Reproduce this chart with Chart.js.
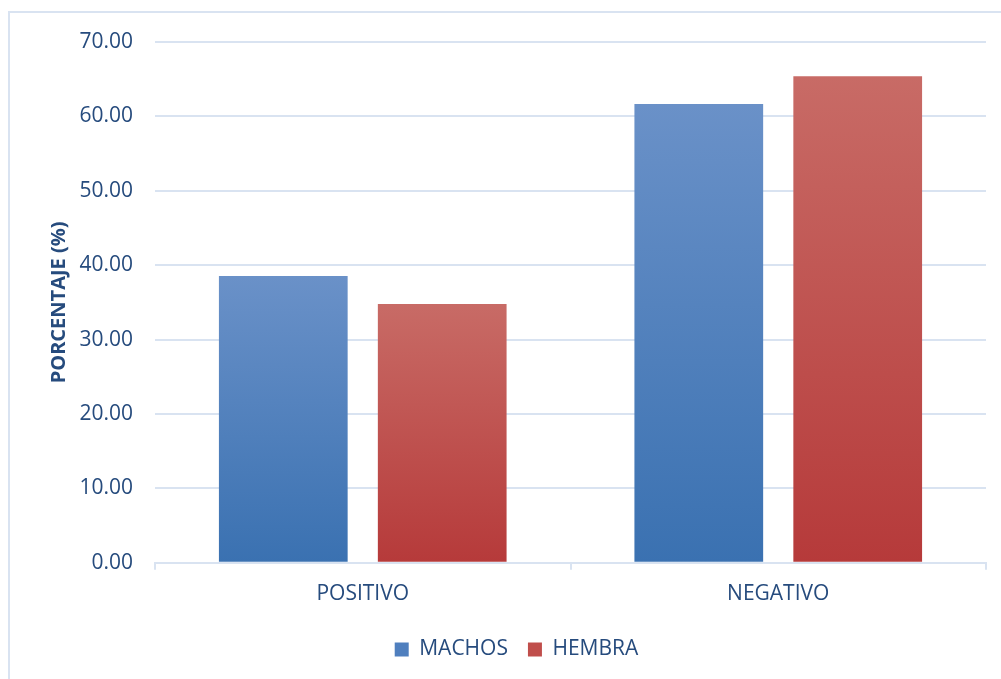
<!DOCTYPE html>
<html>
<head>
<meta charset="utf-8">
<script src="https://cdn.jsdelivr.net/npm/chart.js@4"></script>
<style>
  html, body { margin: 0; padding: 0; background: #fff; }
  #wrap { width: 1001px; height: 679px; position: relative; }
</style>
</head>
<body>
<div id="wrap"><canvas id="myChart" width="1001" height="679"></canvas></div>
<script>
const categories = ['POSITIVO', 'NEGATIVO'];
const machos = [38.55, 61.65];
const hembra = [34.8, 65.4];
const yTicks = [0, 10, 20, 30, 40, 50, 60, 70];

const textColor = '#264b7d';
const gridColor = '#d9e3f1';

// gradient from top of each bar to its base, like the office fill
function barGradient(light, dark) {
    return function (ctx) {
        const chart = ctx.chart;
        const y = chart.scales.y;
        if (!y || ctx.raw === undefined) return dark;
        const top = y.getPixelForValue(ctx.raw);
        const base = y.getPixelForValue(0);
        const g = chart.ctx.createLinearGradient(0, top, 0, base);
        g.addColorStop(0, light);
        g.addColorStop(1, dark);
        return g;
    };
}

const outerBorder = {
    id: 'outerBorder',
    beforeDraw(chart) {
        const c = chart.ctx;
        c.save();
        c.strokeStyle = gridColor;
        c.lineWidth = 2;
        c.strokeRect(9, 12, 1100, 1000);
        c.restore();
    }
};

new Chart(document.getElementById('myChart').getContext('2d'), {
    type: 'bar',
    data: {
        labels: categories,
        datasets: [{
            label: 'MACHOS',
            data: machos,
            backgroundColor: barGradient('#6a91c8', '#3a71b1'),
            legendColor: '#4f7fbe'
        }, {
            label: 'HEMBRA',
            data: hembra,
            backgroundColor: barGradient('#c86b66', '#b63a3a'),
            legendColor: '#c04e4b'
        }]
    },
    options: {
        responsive: false,
        animation: false,
        devicePixelRatio: 1,
        datasets: {
            bar: { barPercentage: 0.81, categoryPercentage: 0.765 }
        },
        layout: { padding: { left: 47, right: 15, top: 42, bottom: 9 } },
        plugins: {
            tooltip: { enabled: false },
            legend: {
                position: 'bottom',
                labels: {
                    color: textColor,
                    font: { family: 'Open Sans', size: 21 },
                    boxWidth: 14,
                    boxHeight: 14,
                    padding: 20,
                    generateLabels(chart) {
                        return chart.data.datasets.map((ds, i) => ({
                            text: ds.label,
                            fillStyle: ds.legendColor,
                            strokeStyle: ds.legendColor,
                            lineWidth: 0,
                            fontColor: textColor,
                            datasetIndex: i
                        }));
                    }
                }
            }
        },
        scales: {
            x: {
                grid: {
                    offset: true,
                    drawOnChartArea: false,
                    drawTicks: true,
                    tickLength: 7,
                    color: gridColor,
                    lineWidth: 2
                },
                border: { color: gridColor, width: 2 },
                ticks: {
                    color: textColor,
                    font: { family: 'Open Sans', size: 21 },
                    padding: 12
                }
            },
            y: {
                min: 0,
                max: 70,
                afterBuildTicks(axis) {
                    axis.ticks = yTicks.map(v => ({ value: v }));
                },
                afterFit(axis) { axis.width = 108; },
                border: { display: false },
                grid: { color: gridColor, lineWidth: 2, drawTicks: false },
                ticks: {
                    color: textColor,
                    font: { family: 'Open Sans', size: 21 },
                    padding: 22,
                    callback: v => Number(v).toFixed(2)
                },
                title: {
                    display: true,
                    text: 'PORCENTAJE (%)',
                    color: textColor,
                    font: { family: 'Open Sans', size: 20, weight: 'bold' },
                    padding: 0
                }
            }
        }
    },
    plugins: [outerBorder]
});
</script>
</body>
</html>
